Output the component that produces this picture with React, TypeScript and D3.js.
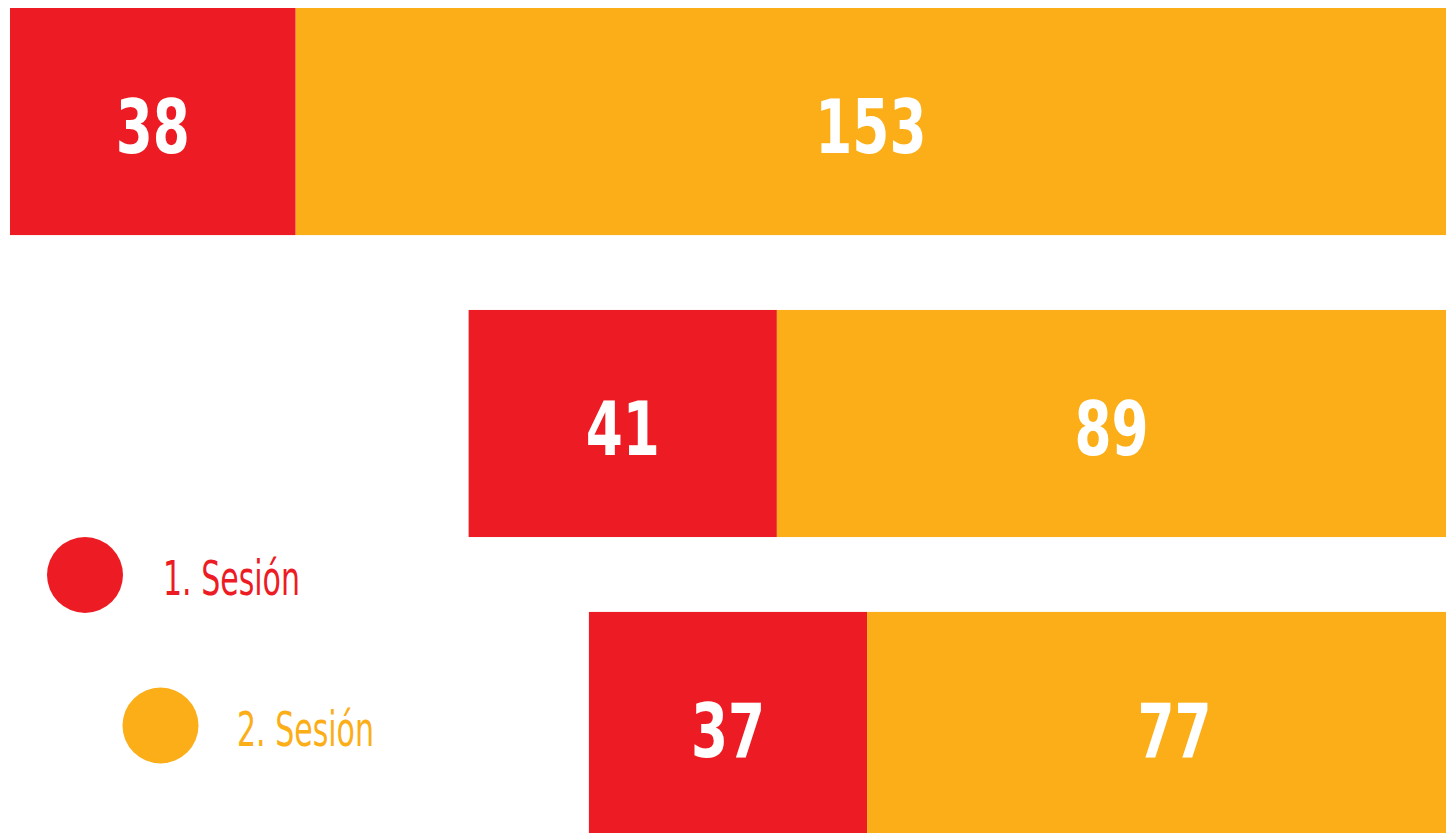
import React, { useEffect, useRef } from 'react';
import * as d3 from 'd3';

const rows = ['A', 'B', 'C'];
const session1 = [38, 41, 37];
const session2 = [153, 89, 77];
const seriesLabels = ['1. Sesión', '2. Sesión'];
const colors = ['#ED1C24', '#FBAE17'];

const FONT = "'Liberation Sans Narrow', 'DejaVu Sans Condensed', 'Arial Narrow', sans-serif";

const App = () => {
  const ref = useRef<SVGSVGElement | null>(null);

  useEffect(() => {
    const W = 1446;
    const H = 833;
    const right = 1446;

    const svg = d3.select(ref.current);
    svg.selectAll('*').remove();

    const totals = rows.map((_, i) => session1[i] + session2[i]);
    const maxTotal = d3.max(totals) as number;

    // widest bar runs from x=10 to the right edge
    const x = d3.scaleLinear().domain([0, maxTotal]).range([0, right - 10]);

    const y = d3
      .scaleBand()
      .domain(rows)
      .range([8, 839])
      .paddingInner(0.248)
      .paddingOuter(0);

    const data = rows.map((r, i) => ({
      row: r,
      segs: [
        { v: session1[i], s: 0, x0: right - x(totals[i]), x1: right - x(totals[i]) + x(session1[i]), c: colors[0] },
        { v: session2[i], s: 1, x0: right - x(totals[i]) + x(session1[i]), x1: right, c: colors[1] },
      ],
    }));

    const g = svg.selectAll('g.row').data(data).enter().append('g').attr('class', 'row');

    g.selectAll('rect')
      .data(d => d.segs.map(s => ({ ...s, row: d.row })))
      .enter()
      .append('rect')
      .attr('x', d => d.x0)
      .attr('y', d => y(d.row) as number)
      .attr('width', d => d.x1 - d.x0)
      .attr('height', y.bandwidth())
      .attr('fill', d => d.c);

    // the last orange label sits a bit right of centre in the original
    const nudge = (row: string, s: number) => (row === 'C' && s === 1 ? 18 : 0);

    // condensed bold numbers: squeeze horizontally
    g.selectAll('text')
      .data(d => d.segs.map(s => ({ ...s, row: d.row })))
      .enter()
      .append('text')
      .attr('transform', d =>
        `translate(${(d.x0 + d.x1) / 2 + nudge(d.row, d.s)},${(y(d.row) as number) + y.bandwidth() / 2 + 31.5}) scale(0.8,1)`)
      .attr('text-anchor', 'middle')
      .attr('fill', '#fff')
      .attr('font-family', FONT)
      .attr('font-weight', 'bold')
      .attr('font-size', 74)
      .text(d => d.v);

    // legend
    const legend = [
      { cx: 85, cy: 575, tx: 163, ty: 595 },
      { cx: 160.5, cy: 725.5, tx: 237, ty: 746 },
    ];
    legend.forEach((l, i) => {
      svg.append('circle').attr('cx', l.cx).attr('cy', l.cy).attr('r', 38).attr('fill', colors[i]);
      svg.append('text')
        .attr('x', l.tx)
        .attr('y', l.ty)
        .attr('fill', colors[i])
        .attr('font-family', FONT)
        .attr('font-size', 48)
        .attr('textLength', 137)
        .attr('lengthAdjust', 'spacingAndGlyphs')
        .text(seriesLabels[i]);
    });

    svg.attr('width', W).attr('height', H);
  }, []);

  return (
    <svg
      ref={ref}
      width={1446}
      height={833}
      style={{ position: 'absolute', left: 0, top: 0, background: '#fff', overflow: 'hidden' }}
    />
  );
};

export default App;
